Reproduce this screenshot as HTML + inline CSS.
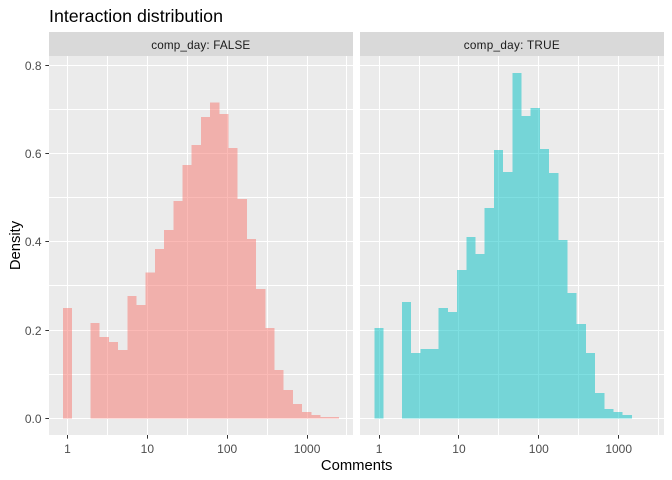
<!DOCTYPE html>
<html>
<head>
<meta charset="utf-8">
<title>Interaction distribution</title>
<style>
html,body{margin:0;padding:0;background:#fff;}
svg{display:block;font-family:"Liberation Sans",Arial,sans-serif;}
</style>
</head>
<body>
<svg id="chart" width="672" height="480" viewBox="0 0 672 480" xmlns="http://www.w3.org/2000/svg"></svg>
<script>
const panelNames = ['comp_day: FALSE', 'comp_day: TRUE'];
const panelColors = ['#F8766D', '#00BFC4'];
const falseDensity = [0.25,0,0,0.216,0.184,0.173,0.155,0.277,0.257,0.331,0.384,0.427,0.492,0.574,0.619,0.683,0.715,0.689,0.6125,0.497,0.406,0.293,0.205,0.11,0.064,0.033,0.0145,0.0077,0.0032,0.003];
const trueDensity = [0.2046,0,0,0.2635,0.148,0.157,0.157,0.25,0.241,0.336,0.411,0.372,0.476,0.608,0.558,0.782,0.685,0.703,0.61,0.556,0.404,0.284,0.2137,0.148,0.0574,0.021,0.0143,0.0075];
const logBinWidth = 0.11522;
const xMajorTicks = [1, 10, 100, 1000];
const xMinorTicks = [3.1623, 31.623, 316.23, 3162.3];
const yMajorTicks = [0, 0.2, 0.4, 0.6, 0.8];
const yMinorTicks = [0.1, 0.3, 0.5, 0.7];
const yTickLabels = ['0.0', '0.2', '0.4', '0.6', '0.8'];
const seriesList = [falseDensity, trueDensity];

const NS = 'http://www.w3.org/2000/svg';
const svg = document.getElementById('chart');
function make(tag, attrs, parent, text) {
  const el = document.createElementNS(NS, tag);
  for (const k in attrs) el.setAttribute(k, attrs[k]);
  if (text !== undefined) el.textContent = text;
  (parent || svg).appendChild(el);
  return el;
}
const panels = [
  {left: 49, right: 353, xOne: 67.5, binShift: 0, labelWidth: 99},
  {left: 360, right: 664, xOne: 379.12, binShift: -0.2, labelWidth: 96}
];
const panelTop = 56, panelBottom = 435, stripTop = 32;
function xLog(panel, logValue) { return panel.xOne + 79.85 * logValue; }
function xScale(panel, value) { return xLog(panel, Math.log10(value)); }
function yScale(value) { return 418.4 - 441.5 * value; }

seriesList.forEach(function (values, p) {
  const panel = panels[p];
  const g = make('g', {}, svg);
  
  

  const strip = make('rect', {x: panel.left, y: stripTop, width: panel.right - panel.left, height: panelTop - stripTop, fill: '#D9D9D9'}, g);
  
  
  const stripLabel = make('text', {x: (panel.left + panel.right) / 2 - 0.3, y: 49, 'text-anchor': 'middle', 'font-size': '11.7', fill: '#1A1A1A', textLength: panel.labelWidth, lengthAdjust: 'spacing'}, g, panelNames[p]);
  
  

  const bg = make('rect', {x: panel.left, y: panelTop, width: panel.right - panel.left, height: panelBottom - panelTop, fill: '#EBEBEB'}, g);
  
  

  yMinorTicks.concat(yMajorTicks).forEach(function (v) {
    const line = make('rect', {x: panel.left, y: Math.floor(yScale(v)), width: panel.right - panel.left, height: 1, fill: '#fff'}, g);
    
    
  });
  xMinorTicks.concat(xMajorTicks).forEach(function (v) {
    const line = make('rect', {x: Math.floor(xScale(panel, v)), y: panelTop, width: 1, height: panelBottom - panelTop, fill: '#fff'}, g);
    
    
  });

  values.forEach(function (v, i) {
    if (v <= 0) return;
    const x0 = xLog(panel, (i - 0.5) * logBinWidth) + panel.binShift;
    const x1 = xLog(panel, (i + 0.5) * logBinWidth) + panel.binShift;
    const bar = make('rect', {x: x0, y: yScale(v), width: x1 - x0, height: yScale(0) - yScale(v), fill: panelColors[p], 'fill-opacity': 0.5, 'shape-rendering': 'crispEdges'}, g);
    
    
  });

  xMajorTicks.forEach(function (v) {
    const tick = make('rect', {x: Math.floor(xScale(panel, v)), y: panelBottom, width: 1, height: 3.65, fill: '#333333'}, g);
    
    
    const label = make('text', {x: xScale(panel, v), y: 453, 'text-anchor': 'middle', 'font-size': '12', fill: '#4D4D4D'}, g, String(v));
    
    
  });
});

yMajorTicks.forEach(function (v, i) {
  const yy = Math.floor(yScale(v));
  const tick = make('rect', {x: 45.35, y: yy, width: 3.65, height: 1, fill: '#333333'});
  
  
  const label = make('text', {x: 41.5, y: yy + 4.8, 'text-anchor': 'end', 'font-size': '12', fill: '#4D4D4D'}, svg, yTickLabels[i]);
  
  
});

const chartTitle = make('text', {x: 49, y: 22, 'font-size': '17.8', fill: '#000'}, svg, 'Interaction distribution');


const xTitle = make('text', {x: 356.7, y: 470, 'text-anchor': 'middle', 'font-size': '14.8', fill: '#000'}, svg, 'Comments');


const yTitle = make('text', {transform: 'translate(20 245.5) rotate(-90)', 'text-anchor': 'middle', 'font-size': '14.8', fill: '#000'}, svg, 'Density');


</script>
</body>
</html>
